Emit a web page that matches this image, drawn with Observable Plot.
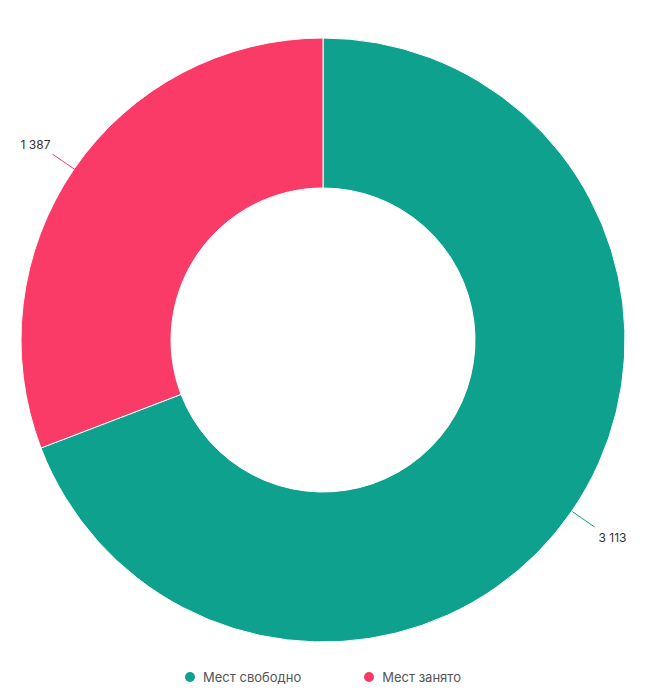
<!DOCTYPE html>
<html>
<head>
<meta charset="utf-8">
<script src="https://cdn.jsdelivr.net/npm/d3@7"></script>
<script src="https://cdn.jsdelivr.net/npm/@observablehq/plot@0.6"></script>
<style>
  html, body { margin: 0; padding: 0; background: #fff; }
  body { width: 646px; font-family: Inter, "Noto Sans", sans-serif; }
  #legend { display: flex; justify-content: center; gap: 63px; height: 34px; align-items: center; font-size: 13px; color: #555; margin-top: 0px; }
  #legend .item { display: flex; align-items: center; }
  #legend .dot { width: 10px; height: 10px; border-radius: 50%; margin-right: 8px; }
</style>
</head>
<body>
<div id="chart"></div>
<div id="legend"></div>
<script>
const categories = ["Мест свободно", "Мест занято"];
const values = [3113, 1387];
const labels = ["3 113", "1 387"];
const colors = ["#0ea18d", "#fb3b67"];

const W = 646, H = 660;
const cx = 323, cy = 340, R = 302, r0 = 152;

const data = categories.map((c, i) => ({category: c, value: values[i], label: labels[i]}));
const pie = d3.pie().sort(null).value(d => d.value)(data);

const leaders = pie.map(p => {
  const a = (p.startAngle + p.endAngle) / 2;
  const s = Math.sin(a), c = -Math.cos(a);
  return {
    category: p.data.category, label: p.data.label,
    x1: R * s, y1: R * c, x2: (R + 27) * s, y2: (R + 27) * c,
    right: s > 0
  };
});

const chart = Plot.plot({
  width: W, height: H,
  margin: 0,
  x: {domain: [-cx, W - cx], range: [0, W], axis: null},
  y: {domain: [-cy, H - cy], range: [0, H], axis: null},
  color: {domain: categories, range: colors},
  marks: [
    (index, scales) => {
      const g = d3.create("svg:g");
      const arc = d3.arc().innerRadius(r0).outerRadius(R);
      g.attr("transform", `translate(${scales.x(0)},${scales.y(0)})`);
      g.selectAll("path").data(pie).join("path")
        .attr("d", arc)
        .attr("fill", d => scales.color(d.data.category))
        .attr("stroke", "#fff")
        .attr("stroke-width", 1)
        .attr("stroke-linejoin", "round");
      return g.node();
    },
    Plot.link(leaders, {x1: "x1", y1: "y1", x2: "x2", y2: "y2", stroke: "category", strokeWidth: 1}),
    Plot.text(leaders.filter(d => d.right), {
      x: d => d.x2 + 4, y: d => d.y2 + 11,
      text: "label", textAnchor: "start",
      fill: "#333", fontSize: 12, fontFamily: "Inter, sans-serif"
    }),
    Plot.text(leaders.filter(d => !d.right), {
      x: d => d.x2 - 2, y: d => d.y2 - 8.5,
      text: "label", textAnchor: "end",
      fill: "#333", fontSize: 12, fontFamily: "Inter, sans-serif"
    })
  ]
});
document.getElementById("chart").appendChild(chart);

const legend = d3.select("#legend");
categories.forEach((c, i) => {
  const it = legend.append("div").attr("class", "item");
  it.append("div").attr("class", "dot").style("background", colors[i]);
  it.append("span").text(c);
});
</script>
</body>
</html>
